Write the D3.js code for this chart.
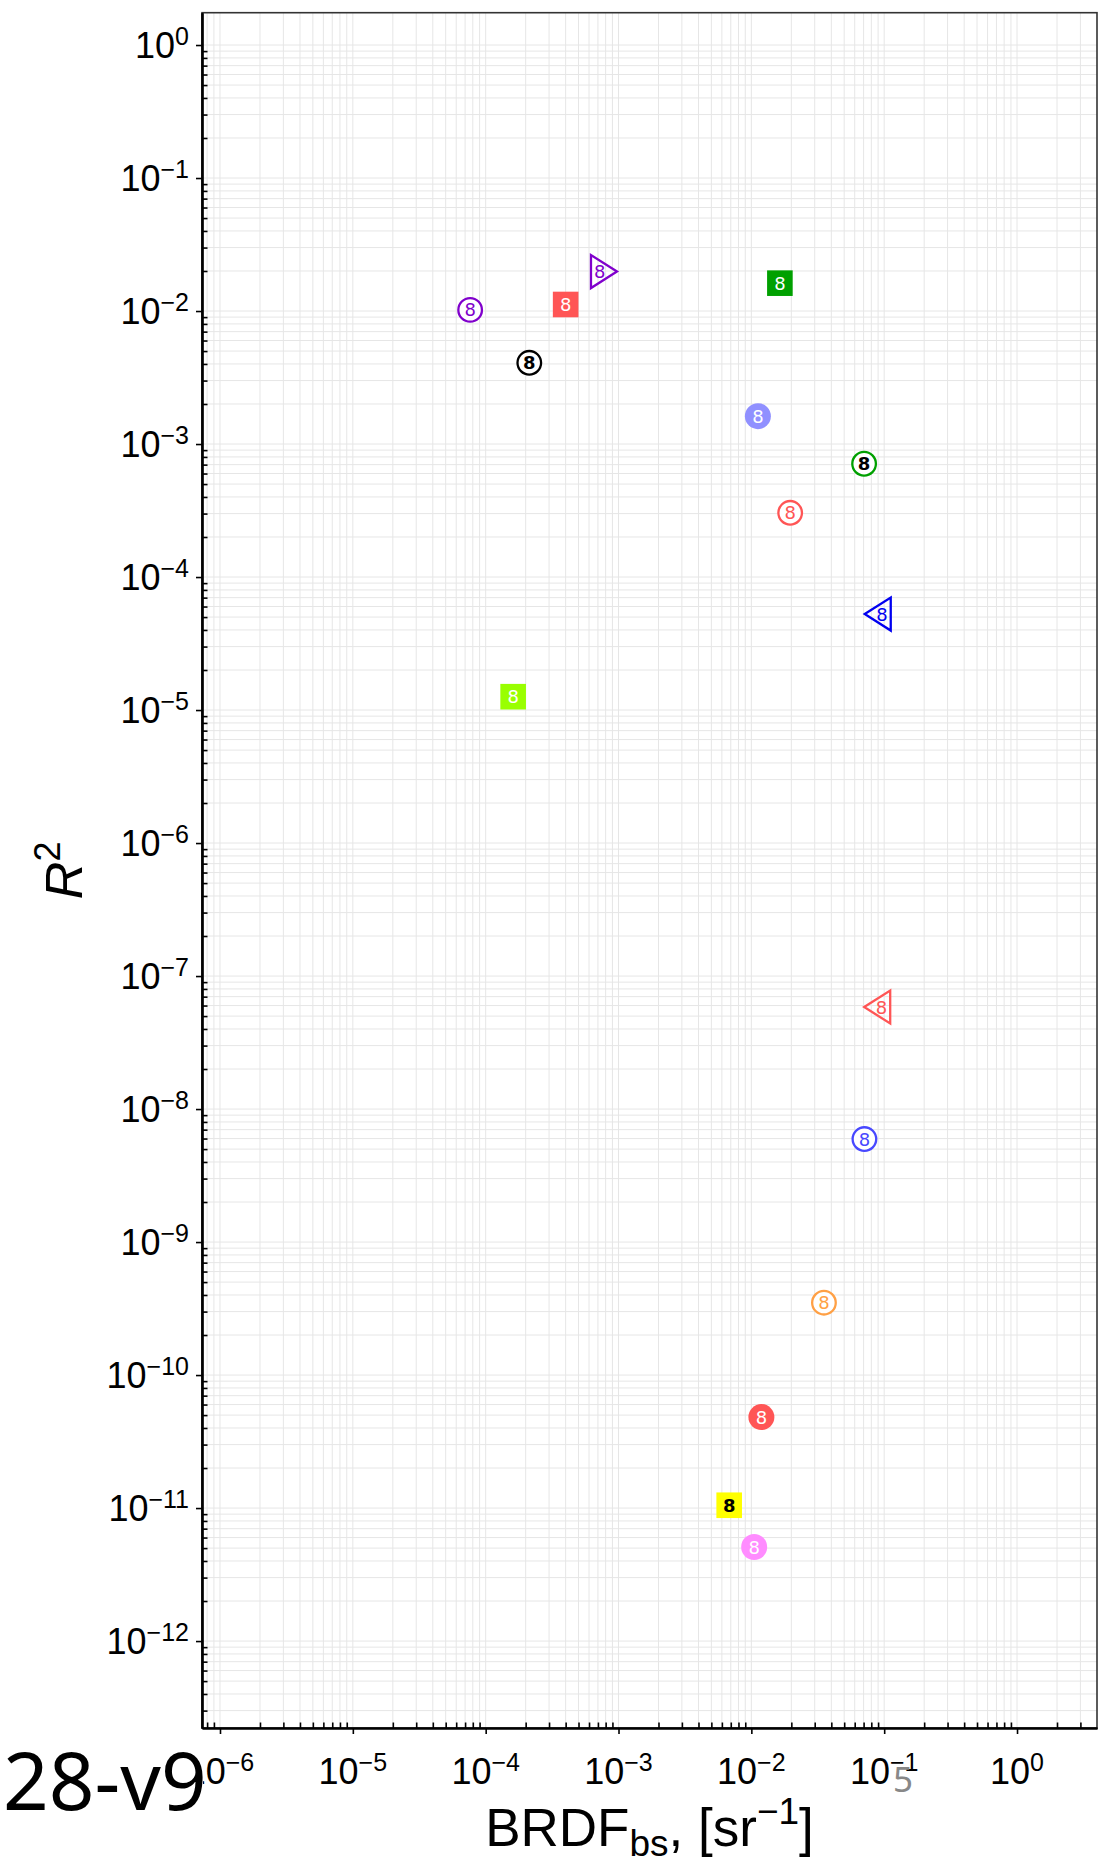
<!DOCTYPE html>
<html>
<head>
<meta charset="utf-8">
<script src="https://cdn.jsdelivr.net/npm/d3@7"></script>
<style>
  body { margin: 0; background: #fff; }
  svg { display: block; }
</style>
</head>
<body>
<div id="chart"></div>
<script>
// point values
const xValues = [7.64e-5, 4.0e-4, 7.21e-4, 1.64e-2, 2.13e-4, 1.12e-2, 7.06e-2, 1.96e-2,
                 9.64e-2, 1.61e-4, 9.55e-2, 7.1e-2, 3.52e-2, 1.19e-2, 6.81e-3, 1.05e-2];
const yValues = [1.02e-2, 1.12e-2, 1.98e-2, 1.62e-2, 4.08e-3, 1.62e-3, 7.11e-4, 3.04e-4,
                 5.27e-5, 1.26e-5, 5.85e-8, 5.95e-9, 3.50e-10, 4.83e-11, 1.05e-11, 5.09e-12];
const pointLabels = ["8","8","8","8","8","8","8","8","8","8","8","8","8","8","8","8"];

const xTickExps = [-6, -5, -4, -3, -2, -1, 0];
const yTickExps = [0, -1, -2, -3, -4, -5, -6, -7, -8, -9, -10, -11, -12];

// marker look for each point (shape, fill, stroke, text colour)
const markerStyles = [
  {shape: "circle", fill: "none",    stroke: "#8000cc", text: "#8000cc"},
  {shape: "square", fill: "#ff5555", stroke: "none",    text: "#fff"},
  {shape: "triR",   fill: "none",    stroke: "#8000cc", text: "#8000cc"},
  {shape: "square", fill: "#00a000", stroke: "none",    text: "#fff"},
  {shape: "circle", fill: "none",    stroke: "#000",    text: "#000"},
  {shape: "dot",    fill: "#9090ff", stroke: "none",    text: "#fff"},
  {shape: "circle", fill: "none",    stroke: "#00a000", text: "#000"},
  {shape: "circle", fill: "none",    stroke: "#ff5555", text: "#ff5555"},
  {shape: "triL",   fill: "none",    stroke: "#0000f0", text: "#0000f0"},
  {shape: "square", fill: "#99ff00", stroke: "none",    text: "#fff"},
  {shape: "triL",   fill: "none",    stroke: "#ff5555", text: "#ff5555"},
  {shape: "circle", fill: "none",    stroke: "#4848ff", text: "#4848ff"},
  {shape: "circle", fill: "none",    stroke: "#ffa045", text: "#ffa045"},
  {shape: "dot",    fill: "#ff5555", stroke: "none",    text: "#fff"},
  {shape: "square", fill: "#ffff00", stroke: "none",    text: "#000"},
  {shape: "dot",    fill: "#ff8cff", stroke: "none",    text: "#fff"}
];

const points = xValues.map((x, i) => ({x: x, y: yValues[i], label: pointLabels[i], st: markerStyles[i]}));

const W = 1104, H = 1862;
const plotL = 202, plotR = 1097, plotT = 12.7, plotB = 1728;

const svg = d3.select("#chart").append("svg")
    .attr("width", W)
    .attr("height", H);

const x = d3.scaleLog().domain([7.32e-7, 4.0]).range([plotL, plotR]);
const y = d3.scaleLog().domain([2.22e-13, 1.75]).range([plotB, plotT]);

// minor positions 2..9 per decade
function minors(lo, hi) {
  const out = [];
  for (let e = lo; e <= hi; e++) for (let m = 2; m <= 9; m++) out.push(m * Math.pow(10, e));
  return out;
}
const xMajor = xTickExps.map(e => Math.pow(10, e));
const yMajor = yTickExps.map(e => Math.pow(10, e));
const xMinor = minors(-7, 0).filter(v => v > x.domain()[0] && v < x.domain()[1]);
const yMinor = minors(-13, 0).filter(v => v > y.domain()[0] && v < y.domain()[1]);

// grid
const grid = svg.append("g").attr("stroke", "#e6e6e6").attr("stroke-width", 1);
grid.selectAll(".gx").data(xMajor.concat(xMinor)).join("line")
    .attr("x1", d => x(d)).attr("x2", d => x(d))
    .attr("y1", plotT).attr("y2", plotB);
grid.selectAll(".gy").data(yMajor.concat(yMinor)).join("line")
    .attr("y1", d => y(d)).attr("y2", d => y(d))
    .attr("x1", plotL).attr("x2", plotR);

// frame (top/right)
svg.append("rect")
    .attr("x", plotL).attr("y", plotT)
    .attr("width", plotR - plotL).attr("height", plotB - plotT)
    .attr("fill", "none").attr("stroke", "#333").attr("stroke-width", 1.6);

// axes: major ticks outside, minor inside
function styleAxis(g) {
  g.select(".domain").attr("stroke", "#000").attr("stroke-width", 2.2);
  g.selectAll(".tick line").attr("stroke", "#000").attr("stroke-width", 1.6);
  g.selectAll(".tick text").remove();
}
svg.append("g").attr("transform", `translate(0,${plotB})`)
    .call(d3.axisBottom(x).tickValues(xMinor).tickSize(-5.5).tickSizeOuter(0).tickFormat(""))
    .call(styleAxis);
svg.append("g").attr("transform", `translate(0,${plotB})`)
    .call(d3.axisBottom(x).tickValues(xMajor).tickSize(6).tickSizeOuter(0).tickFormat(""))
    .call(styleAxis);
svg.append("g").attr("transform", `translate(${plotL},0)`)
    .call(d3.axisLeft(y).tickValues(yMinor).tickSize(-5.5).tickSizeOuter(0).tickFormat(""))
    .call(styleAxis);
svg.append("g").attr("transform", `translate(${plotL},0)`)
    .call(d3.axisLeft(y).tickValues(yMajor).tickSize(6).tickSizeOuter(0).tickFormat(""))
    .call(styleAxis);

const labelFont = "'Liberation Sans', Arial, sans-serif";
function powLabel(sel, e) {
  sel.append("tspan").text("10");
  sel.append("tspan").attr("dy", "-0.52em").attr("font-size", "25px")
     .text(e < 0 ? "\u2212" + (-e) : String(e));
}

// y tick labels
yTickExps.forEach(e => {
  const t = svg.append("text")
      .attr("x", 189).attr("y", y(Math.pow(10, e)) + 12.5)
      .attr("text-anchor", "end")
      .attr("font-family", labelFont).attr("font-size", "36px").attr("fill", "#000");
  powLabel(t, e);
});

// x tick labels
xTickExps.forEach(e => {
  const t = svg.append("text")
      .attr("x", x(Math.pow(10, e))).attr("y", 1784)
      .attr("text-anchor", "middle")
      .attr("font-family", labelFont).attr("font-size", "36px").attr("fill", "#000");
  powLabel(t, e);
});

// x title
const xt = svg.append("text")
    .attr("x", (plotL + plotR) / 2).attr("y", 1846)
    .attr("text-anchor", "middle")
    .attr("font-family", labelFont).attr("font-size", "53px").attr("fill", "#000");
xt.append("tspan").text("BRDF");
xt.append("tspan").attr("font-size", "37px").attr("dy", "0.28em").text("bs");
xt.append("tspan").attr("dy", "-0.2em").text(", [sr");
xt.append("tspan").attr("font-size", "37px").attr("dy", "-0.6em").text("\u22121");
xt.append("tspan").attr("dy", "0.42em").text("]");

// y title
const yt = svg.append("text")
    .attr("transform", `translate(82,${(plotT + plotB) / 2}) rotate(-90)`)
    .attr("text-anchor", "middle")
    .attr("font-family", labelFont).attr("font-size", "52px").attr("fill", "#000");
yt.append("tspan").attr("font-style", "italic").text("R");
yt.append("tspan").attr("font-size", "36px").attr("dy", "-0.6em").text("2");

// markers; triangles are centred on their centroid
const triDepth = 26, triBase = 33;
function triPath(dir) {
  // dir = 1 points right, -1 points left
  const tip = dir * 2 * triDepth / 3, back = -dir * triDepth / 3;
  return `M${tip},0L${back},${-triBase / 2}L${back},${triBase / 2}Z`;
}
const mk = svg.append("g").selectAll("g").data(points).join("g")
    .attr("transform", d => `translate(${x(d.x)},${y(d.y)})`);

mk.filter(d => d.st.shape === "circle").append("circle")
    .attr("r", 11.8).attr("fill", "#fff").attr("stroke", d => d.st.stroke).attr("stroke-width", 2.3);
mk.filter(d => d.st.shape === "dot").append("circle")
    .attr("r", 13).attr("fill", d => d.st.fill);
mk.filter(d => d.st.shape === "square").append("rect")
    .attr("x", -12.8).attr("y", -12.8).attr("width", 25.6).attr("height", 25.6)
    .attr("fill", d => d.st.fill);
mk.filter(d => d.st.shape === "triL").append("path")
    .attr("d", triPath(-1)).attr("fill", "none")
    .attr("stroke", d => d.st.stroke).attr("stroke-width", 2.3);
mk.filter(d => d.st.shape === "triR").append("path")
    .attr("d", triPath(1)).attr("fill", "none")
    .attr("stroke", d => d.st.stroke).attr("stroke-width", 2.3);

mk.append("text")
    .attr("text-anchor", "middle")
    .attr("dy", "0.36em")
    .attr("font-family", "'DejaVu Sans', sans-serif")
    .attr("font-size", "18px")
    .attr("font-weight", d => d.st.text === "#000" ? "bold" : "normal")
    .attr("fill", d => d.st.text)
    .text(d => d.label);

// panel tag in the corner, drawn over the first tick label
const tag = svg.append("g");
tag.append("rect").attr("x", 0).attr("y", 1742).attr("width", 203).attr("height", 80).attr("fill", "#fff");
tag.append("text")
    .attr("x", 3).attr("y", 1810)
    .attr("font-family", "'Noto Sans', 'Open Sans', sans-serif")
    .attr("font-size", "80px").attr("fill", "#000")
    .text("28-v9");

svg.append("text")
    .attr("x", 893).attr("y", 1792)
    .attr("font-family", "'Noto Sans', 'Open Sans', sans-serif")
    .attr("font-size", "35px").attr("fill", "#888")
    .text("5");
</script>
</body>
</html>
